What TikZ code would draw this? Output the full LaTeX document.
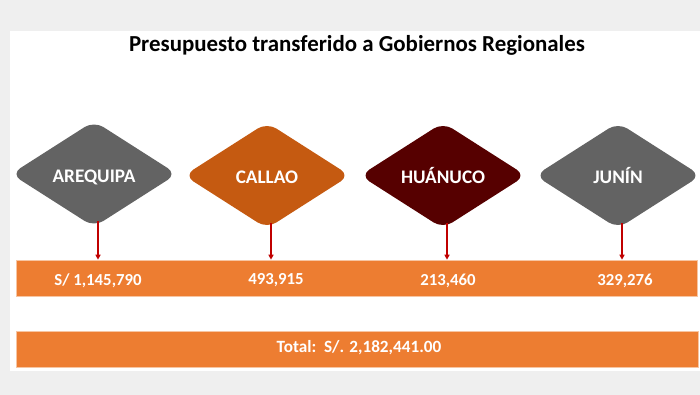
\documentclass[tikz,border=0pt]{standalone}
\usepackage{fontspec}
\setmainfont{Carlito}
\usepackage{xcolor}
\usepackage{tikz}
\usetikzlibrary{arrows.meta,positioning,shapes.geometric}
\definecolor{greyd}{HTML}{636363}
\definecolor{rustx}{HTML}{C55A11}
\definecolor{maroonx}{HTML}{560000}
\definecolor{barx}{HTML}{ED7D31}
\definecolor{arrowx}{HTML}{C00000}
\definecolor{pagebg}{HTML}{EFEFEF}
\tikzset{
  region/.style={diamond,inner sep=0pt,minimum width=166pt,minimum height=106pt,
    rounded corners=11pt,text=white,text height=16.3pt,text depth=0pt,
    font=\bfseries\fontsize{19.2}{21}\selectfont},
  bar/.style={rectangle,fill=barx,draw=barx!45!white,line width=0.6pt,inner sep=0pt},
  val/.style={text=white,text height=0.64em,text depth=0pt,font=\bfseries\fontsize{16.8}{20}\selectfont},
  ar/.style={-{Triangle[length=5pt,width=5pt]},line width=1.2pt,arrowx}
}
\begin{document}
\begin{tikzpicture}[x=1pt,y=-1pt]
\fill[pagebg] (0,0) rectangle (700,395);
\fill[white] (10,31) rectangle (700,371);
\useasboundingbox (0,0) rectangle (700,395);
\node[font=\bfseries\fontsize{22.9}{25}\selectfont] (title) at (357,45) {Presupuesto transferido a Gobiernos Regionales};
% regiones
\node[region,fill=greyd] (areq) at (94,174) {AREQUIPA};
\node[region,fill=rustx] (call) at (267,175.5) {CALLAO};
\node[region,fill=maroonx] (huan) at (443,175.5) {HUÁNUCO};
\node[region,fill=greyd] (juni) at (618,175.5) {JUNÍN};
% barras
\node[bar,minimum width=681pt,minimum height=36pt] (mont) at (356.5,278) {};
\node[bar,minimum width=682pt,minimum height=36pt] (tot) at (357,349) {};
\node[val] (vareq) at (98,282) {S/ 1,145,790};
\node[val] (vcall) at (276,281) {493,915};
\node[val] (vhuan) at (448,282) {213,460};
\node[val] (vjuni) at (625,282) {329,276};
\node[val,font=\bfseries\fontsize{17.2}{20}\selectfont] (vtot) at (359,349) {Total:\ \ S/. 2,182,441.00};
% flechas
\foreach \r in {areq,call,huan,juni}{
  \draw[ar] ([xshift=4pt,yshift=6pt]\r.south) -- ([xshift=4pt]\r.south |- mont.north);
}
\end{tikzpicture}
\end{document}
